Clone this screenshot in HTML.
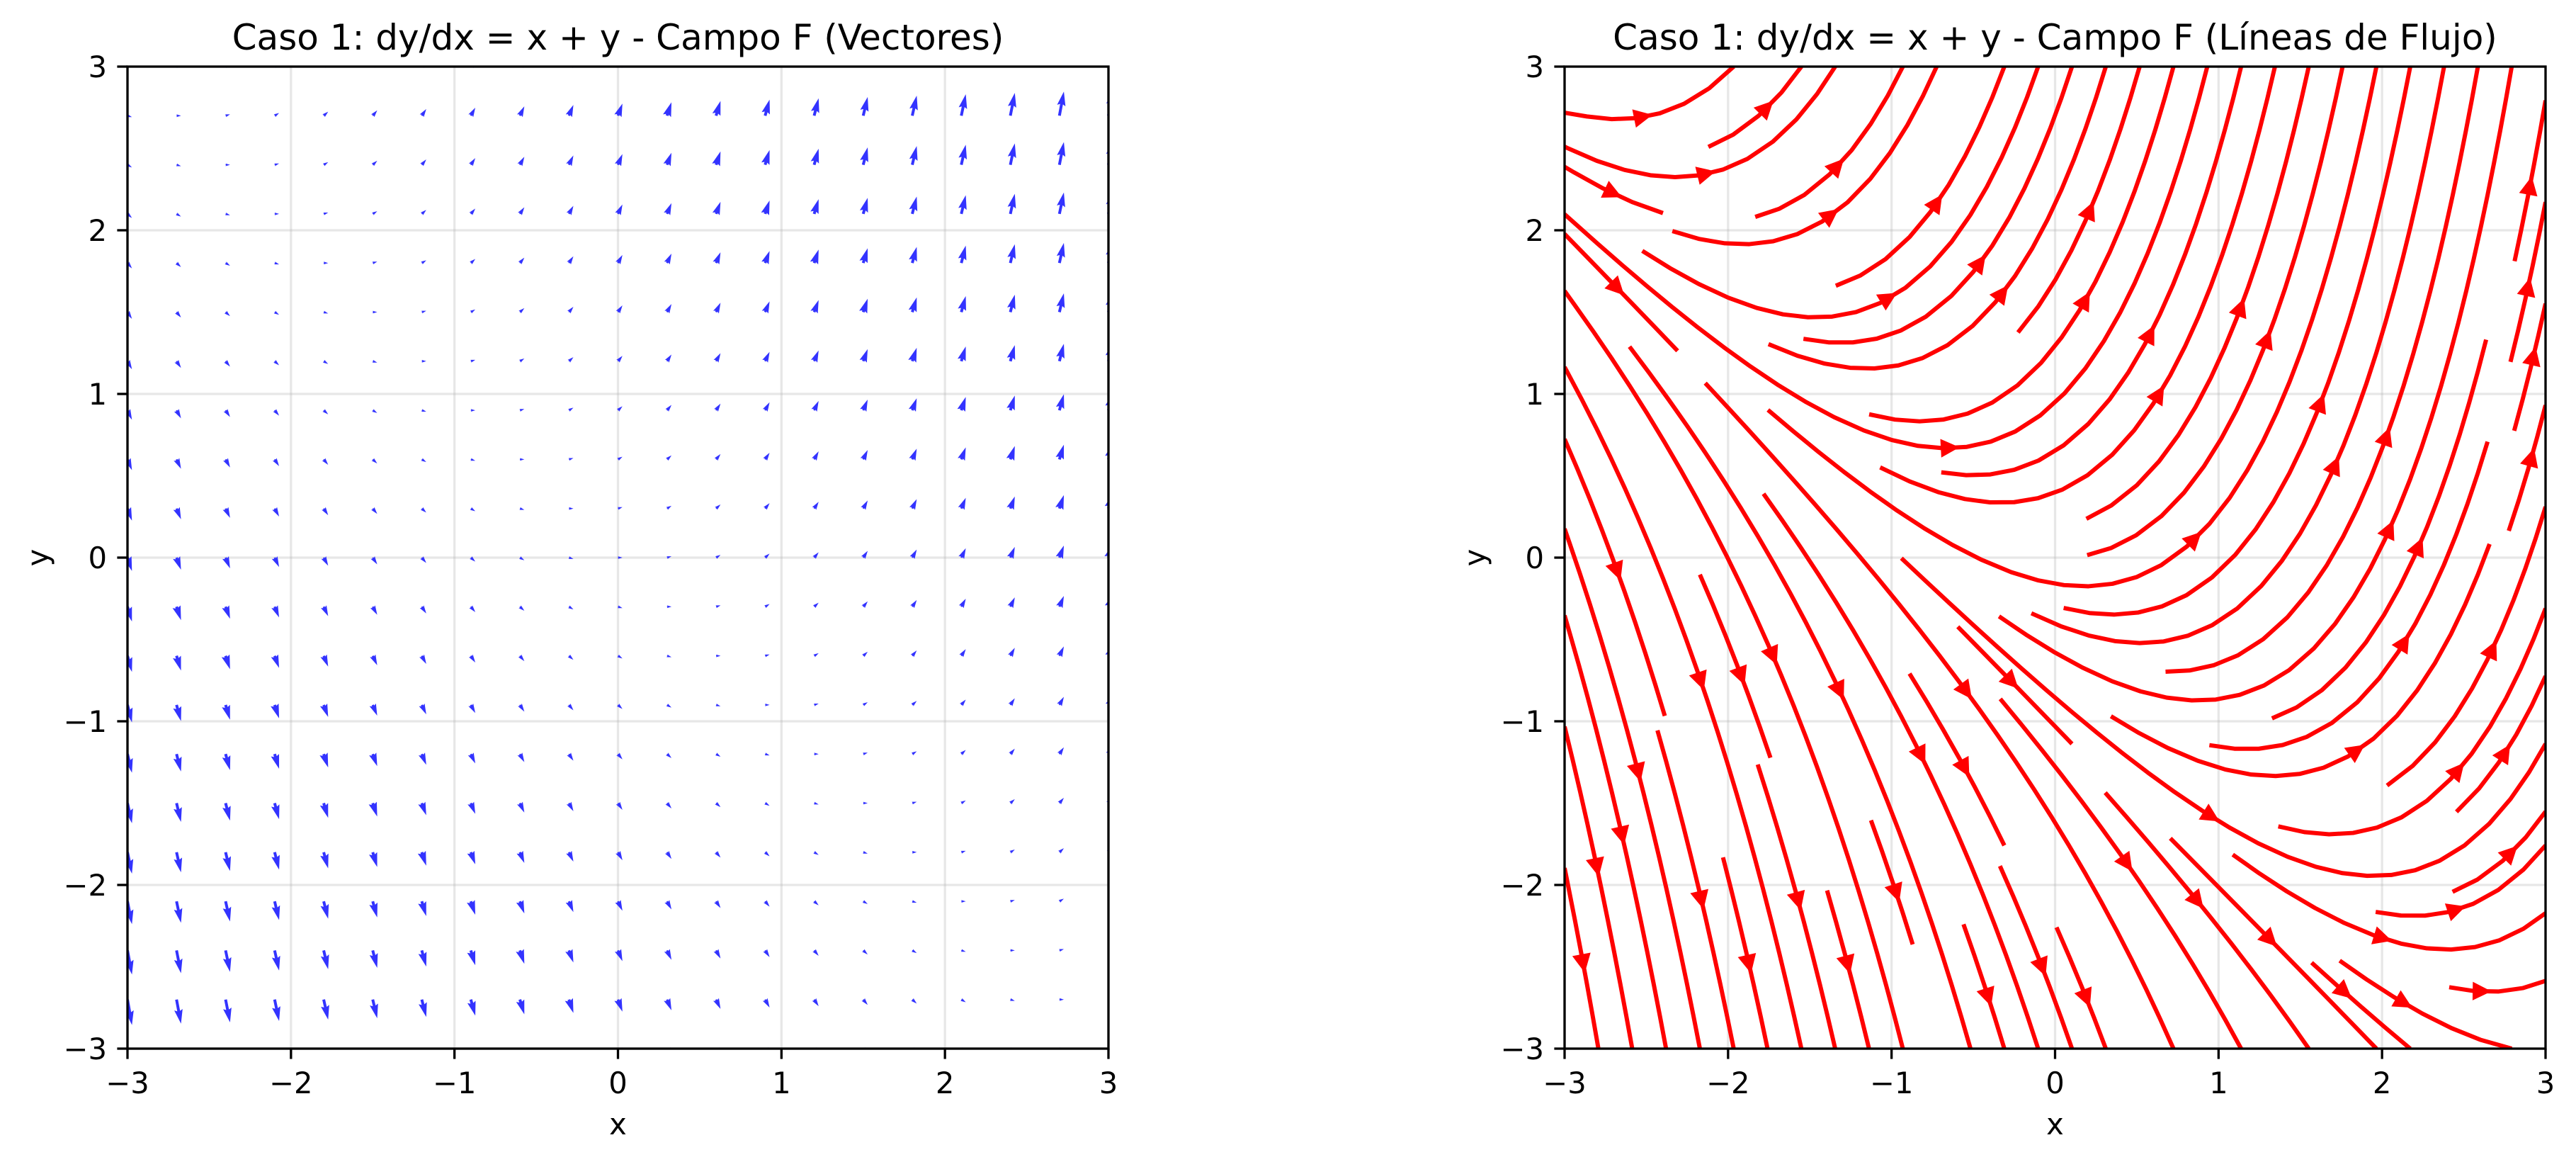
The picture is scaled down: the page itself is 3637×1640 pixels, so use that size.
<!DOCTYPE html>
<html><head><meta charset="utf-8"><title>Caso 1: dy/dx = x + y</title>
<style>html,body{margin:0;padding:0;background:#fff}svg{display:block}text{font-family:"DejaVu Sans","Liberation Sans",sans-serif;fill:#000}</style>
</head><body>
<svg id="fig" xmlns="http://www.w3.org/2000/svg" width="3637" height="1640" viewBox="0 0 3637 1640">
<rect width="3637" height="1640" fill="#fff"/>
<defs>
<clipPath id="clipL"><rect x="180" y="94" width="1385" height="1386"/></clipPath>
<clipPath id="clipR"><rect x="2209" y="94" width="1385" height="1386"/></clipPath>
</defs>
<g id="axL"></g>
<g id="axR"></g>
</svg>
<script>
// ---- data ----
const xTicks = [-3, -2, -1, 0, 1, 2, 3];
const yTicks = [-3, -2, -1, 0, 1, 2, 3];
const xTickLabels = ["−3", "−2", "−1", "0", "1", "2", "3"];
const yTickLabels = ["−3", "−2", "−1", "0", "1", "2", "3"];
const xLim = [-3, 3];
const yLim = [-3, 3];
const quiverXs = [-3, -2.7, -2.4, -2.1, -1.8, -1.5, -1.2, -0.9, -0.6, -0.3, 0, 0.3, 0.6, 0.9, 1.2, 1.5, 1.8, 2.1, 2.4, 2.7, 3];
const quiverYs = [-3, -2.7, -2.4, -2.1, -1.8, -1.5, -1.2, -0.9, -0.6, -0.3, 0, 0.3, 0.6, 0.9, 1.2, 1.5, 1.8, 2.1, 2.4, 2.7, 3];
const fieldP = [1, 0, 0];   // P = a + b*x + c*y
const fieldQ = [0, 1, 1];   // Q = a + b*x + c*y  (dy/dx = x + y)
const streamDensity = [30, 30];

const NS = "http://www.w3.org/2000/svg";
function el(tag, attrs, parent) {
  const e = document.createElementNS(NS, tag);
  for (const k in attrs) e.setAttribute(k, attrs[k]);
  parent.appendChild(e);
  return e;
}
function field(x, y) {
  return [fieldP[0] + fieldP[1] * x + fieldP[2] * y, fieldQ[0] + fieldQ[1] * x + fieldQ[2] * y];
}

function makeAxes(g, L, T, W, H, title, clipId) {
  const sx = v => L + (v - xLim[0]) / (xLim[1] - xLim[0]) * W;
  const sy = v => T + H - (v - yLim[0]) / (yLim[1] - yLim[0]) * H;
  const grid = el("g", {}, g);
  
  
  xTicks.forEach(v => { el("line", {x1: sx(v), x2: sx(v), y1: T, y2: T + H, stroke: "#b0b0b0", "stroke-opacity": 0.3, "stroke-width": 3.3}, grid); });
  yTicks.forEach(v => { el("line", {x1: L, x2: L + W, y1: sy(v), y2: sy(v), stroke: "#b0b0b0", "stroke-opacity": 0.3, "stroke-width": 3.3}, grid); });
  const data = el("g", {"clip-path": "url(#" + clipId + ")"}, g);
  
  
  const frame = el("rect", {x: L, y: T, width: W, height: H, fill: "none", stroke: "#000", "stroke-width": 3.3}, g);
  
  
  const xt = el("g", {}, g);
  
  
  xTicks.forEach((v, i) => {
    el("line", {x1: sx(v), x2: sx(v), y1: T + H, y2: T + H + 14.6, stroke: "#000", "stroke-width": 3.3}, xt);
    const t = el("text", {x: sx(v), y: T + H + 63, "font-size": 41.7, "text-anchor": "middle"}, xt);
    
    
    t.textContent = xTickLabels[i];
  });
  const yt = el("g", {}, g);
  
  
  yTicks.forEach((v, i) => {
    el("line", {x1: L - 14.6, x2: L, y1: sy(v), y2: sy(v), stroke: "#000", "stroke-width": 3.3}, yt);
    const t = el("text", {x: L - 29, y: sy(v) + 15, "font-size": 41.7, "text-anchor": "end"}, yt);
    
    
    t.textContent = yTickLabels[i];
  });
  const xl = el("text", {x: L + W / 2, y: T + H + 121, "font-size": 41.7, "text-anchor": "middle"}, g);
  
  
  xl.textContent = "x";
  const yl = el("text", {x: 0, y: 0, "font-size": 41.7, "text-anchor": "middle", transform: "translate(" + (L - 112) + "," + (T + H / 2) + ") rotate(-90)"}, g);
  
  
  yl.textContent = "y";
  const ti = el("text", {x: L + W / 2, y: T - 24, "font-size": 50, "text-anchor": "middle"}, g);
  
  
  ti.textContent = title;
  return {sx, sy, data, L, T, W, H};
}

// ---- left: quiver ----
const A = makeAxes(document.getElementById("axL"), 180, 94, 1385, 1386, "Caso 1: dy/dx = x + y - Campo F (Vectores)", "clipL");
const qScale = 6.3, w = 4, hl = 5 * w, hal = 4.5 * w, hw = 1.5 * w;
quiverXs.forEach(x => quiverYs.forEach(y => {
  const [u, v] = field(x, y);
  let Lpx = Math.hypot(u, v) * qScale;
  if (Lpx === 0) return;
  const k = Lpx < hl ? Lpx / hl : 1;
  const pts = [[0, -w / 2 * k], [Lpx - hal * k, -w / 2 * k], [Lpx - hl * k, -hw * k], [Lpx, 0], [Lpx - hl * k, hw * k], [Lpx - hal * k, w / 2 * k], [0, w / 2 * k]];
  const ang = Math.atan2(-v, u) * 180 / Math.PI;
  const p = el("polygon", {points: pts.map(q => q.join(",")).join(" "), fill: "rgb(51,51,255)",
    transform: "translate(" + A.sx(x) + "," + A.sy(y) + ") rotate(" + ang + ")"}, A.data);
  
  
}));

// ---- right: streamplot (matplotlib-like algorithm) ----
const B = makeAxes(document.getElementById("axR"), 2209, 94, 1385, 1386, "Caso 1: dy/dx = x + y - Campo F (Líneas de Flujo)", "clipR");
const NX = streamDensity[0], NY = streamDensity[1];
const mask = []; for (let i = 0; i < NY; i++) mask.push(new Array(NX).fill(0));
let traj = [], cur = null;
function toData(ax, ay) { return [xLim[0] + ax * (xLim[1] - xLim[0]), yLim[0] + ay * (yLim[1] - yLim[0])]; }
function vel(ax, ay, sgn) {
  const [x, y] = toData(ax, ay);
  const [u, v] = field(x, y);
  const ua = u / (xLim[1] - xLim[0]), va = v / (yLim[1] - yLim[0]);
  const s = Math.hypot(ua, va);
  if (s === 0) return null;
  return [sgn * ua / s, sgn * va / s];
}
const within = (a, b) => a >= 0 && a <= 1 && b >= 0 && b <= 1;
function updMask(ax, ay) {
  const xm = Math.round(ax * (NX - 1)), ym = Math.round(ay * (NY - 1));
  if (cur[0] !== xm || cur[1] !== ym) {
    if (mask[ym][xm] === 0) { traj.push([ym, xm]); mask[ym][xm] = 1; cur = [xm, ym]; }
    else return false;
  }
  return true;
}
function rk12(x0, y0, sgn, maxlength) {
  const maxerror = 0.003, maxds = Math.min(1 / NX, 1 / NY, 0.1);
  let ds = maxds, stotal = 0, xi = x0, yi = y0; const out = [];
  while (true) {
    let k1, k2, oob = false;
    if (within(xi, yi)) out.push([xi, yi]); else oob = true;
    if (!oob) {
      k1 = vel(xi, yi, sgn);
      if (!k1) break;
      const xx = xi + ds * k1[0], yy = yi + ds * k1[1];
      if (!within(xx, yy)) oob = true; else { k2 = vel(xx, yy, sgn); if (!k2) break; }
    }
    if (oob) {
      if (out.length) {
        const [lx, ly] = out[out.length - 1];
        const c = vel(lx, ly, sgn);
        if (c) {
          const dsx = c[0] === 0 ? Infinity : (c[0] < 0 ? lx / -c[0] : (1 - lx) / c[0]);
          const dsy = c[1] === 0 ? Infinity : (c[1] < 0 ? ly / -c[1] : (1 - ly) / c[1]);
          const d = Math.min(dsx, dsy);
          out.push([lx + c[0] * d, ly + c[1] * d]); stotal += d;
        }
      }
      break;
    }
    const dx1 = ds * k1[0], dy1 = ds * k1[1];
    const dx2 = ds * 0.5 * (k1[0] + k2[0]), dy2 = ds * 0.5 * (k1[1] + k2[1]);
    const err = Math.hypot(dx2 - dx1, dy2 - dy1);
    if (err < maxerror) {
      xi += dx2; yi += dy2;
      if (!within(xi, yi)) break;
      if (!updMask(xi, yi)) break;
      if (stotal + ds > maxlength) break;
      stotal += ds;
    }
    ds = err === 0 ? maxds : Math.min(maxds, 0.85 * ds * Math.sqrt(maxerror / err));
  }
  return [stotal, out];
}
function integrate(x0, y0) {
  traj = []; cur = [null, null];
  const xm = Math.round(x0 * (NX - 1)), ym = Math.round(y0 * (NY - 1));
  if (!updMask(x0, y0)) return null;
  let st = 0, pts = [];
  let [s1, b] = rk12(x0, y0, -1, 4.0); st += s1; pts = b.slice().reverse();
  cur = [xm, ym];
  let [s2, f] = rk12(x0, y0, 1, 4.0); st += s2; pts = pts.concat(f.slice(1));
  if (st > 0.1) return pts;
  traj.forEach(t => mask[t[0]][t[1]] = 0);
  return null;
}
function* startPoints() {
  let xfirst = 0, yfirst = 1, xlast = NX - 1, ylast = NY - 1, x = 0, y = 0, dir = 'right';
  for (let i = 0; i < NX * NY; i++) {
    yield [x, y];
    if (dir === 'right') { x++; if (x >= xlast) { xlast--; dir = 'up'; } }
    else if (dir === 'up') { y++; if (y >= ylast) { ylast--; dir = 'left'; } }
    else if (dir === 'left') { x--; if (x <= xfirst) { xfirst++; dir = 'down'; } }
    else { y--; if (y <= yfirst) { yfirst++; dir = 'right'; } }
  }
}
const trajectories = [];
for (const [xm, ym] of startPoints()) {
  if (mask[ym][xm] === 0) {
    const t = integrate(xm / (NX - 1), ym / (NY - 1));
    if (t) trajectories.push(t);
  }
}
const px = a => B.L + a * B.W, py = a => B.T + B.H - a * B.H;
trajectories.forEach(t => {
  const pl = el("polyline", {points: t.map(p => px(p[0]).toFixed(2) + "," + py(p[1]).toFixed(2)).join(" "),
    fill: "none", stroke: "#ff0000", "stroke-width": 6, "stroke-linejoin": "round", "stroke-linecap": "butt"}, B.data);
  
  
  const s = []; let acc = 0;
  for (let i = 1; i < t.length; i++) { acc += Math.hypot(t[i][0] - t[i - 1][0], t[i][1] - t[i - 1][1]); s.push(acc); }
  if (!s.length) return;
  let n = 0; while (n < s.length && s[n] < acc / 2) n++;
  const n2 = Math.min(n + 1, t.length - 1);
  const tail = [px(t[n][0]), py(t[n][1])];
  const head = [(px(t[n][0]) + px(t[n2][0])) / 2, (py(t[n][1]) + py(t[n2][1])) / 2];
  let dx = head[0] - tail[0], dy = head[1] - tail[1];
  if (dx === 0 && dy === 0) { dx = px(t[n2][0]) - px(t[n - 1 >= 0 ? n - 1 : 0][0]); dy = py(t[n2][1]) - py(t[n - 1 >= 0 ? n - 1 : 0][1]); }
  const ang = Math.atan2(dy, dx) * 180 / Math.PI;
  const ar = el("polygon", {points: "0,0 -16.7,-8.3 -16.7,8.3", fill: "#ff0000", stroke: "#ff0000", "stroke-width": 6, "stroke-linejoin": "miter",
    transform: "translate(" + head[0] + "," + head[1] + ") rotate(" + ang + ")"}, B.data);
  
  
});
</script>
</body></html>
